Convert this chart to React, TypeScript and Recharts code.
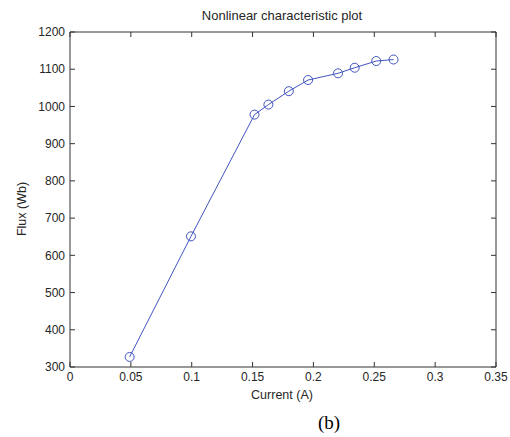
import React from 'react';
import { LineChart, Line, XAxis, YAxis } from 'recharts';

const current = [0.049, 0.0994, 0.1516, 0.163, 0.1798, 0.1956, 0.2202, 0.2339, 0.2516, 0.2658];
const flux = [327, 651, 978, 1005, 1041, 1071, 1089, 1104, 1122, 1126];
const xTicks = [0, 0.05, 0.1, 0.15, 0.2, 0.25, 0.3, 0.35];
const yTicks = [300, 400, 500, 600, 700, 800, 900, 1000, 1100, 1200];

const data = current.map((c, i) => ({ x: c, y: flux[i] }));

const AX = '#333333';
const TXT = '#262626';
const BLUE = '#4255c0';
const SANS = '"Liberation Sans", Arial, sans-serif';

export default function App() {
  const tickStyle = { fontSize: 12, fill: TXT, fontFamily: SANS };
  return (
    <div style={{ position: 'absolute', left: 0, top: 0, width: 510, height: 437, background: '#fff' }}>
      <LineChart width={510} height={437} data={data} margin={{ top: 31, right: 13, bottom: 40, left: 30 }}>
        <XAxis
          dataKey="x"
          type="number"
          domain={[0, 0.35]}
          ticks={xTicks}
          tickFormatter={(v: number) => String(v)}
          height={30}
          tickSize={-5}
          tickMargin={10}
          stroke={AX}
          tick={tickStyle}
          interval={0}
          allowDataOverflow
        />
        <XAxis
          xAxisId="top"
          dataKey="x"
          orientation="top"
          type="number"
          domain={[0, 0.35]}
          ticks={xTicks}
          tickFormatter={() => ''}
          height={1}
          tickSize={-5}
          stroke={AX}
          interval={0}
          allowDataOverflow
        />
        <YAxis
          dataKey="y"
          type="number"
          domain={[300, 1200]}
          ticks={yTicks}
          width={40}
          tickSize={-5}
          tickMargin={10}
          stroke={AX}
          tick={tickStyle}
          interval={0}
          allowDataOverflow
        />
        <YAxis
          yAxisId="right"
          dataKey="y"
          orientation="right"
          type="number"
          domain={[300, 1200]}
          ticks={yTicks}
          tickFormatter={() => ''}
          width={1}
          tickSize={-5}
          stroke={AX}
          interval={0}
          allowDataOverflow
        />
        <Line
          dataKey="y"
          type="linear"
          stroke={BLUE}
          strokeWidth={1}
          dot={{ r: 4.5, fill: 'none', stroke: BLUE, strokeWidth: 1 }}
          isAnimationActive={false}
        />
      </LineChart>
      <div style={{ position: 'absolute', left: 0, width: 564, top: 8, textAlign: 'center', fontFamily: SANS, fontSize: 13, color: TXT, lineHeight: '16px' }}>
        Nonlinear characteristic plot
      </div>
      <div style={{ position: 'absolute', left: 182, width: 200, top: 387, textAlign: 'center', fontFamily: SANS, fontSize: 12.5, color: TXT, lineHeight: '16px' }}>
        Current (A)
      </div>
      <div style={{ position: 'absolute', left: 22 - 50, top: 209 - 8, width: 100, height: 16, textAlign: 'center', fontFamily: SANS, fontSize: 12.5, color: TXT, lineHeight: '16px', transform: 'rotate(-90deg)' }}>
        Flux (Wb)
      </div>
      <div style={{ position: 'absolute', left: 279, width: 100, top: 412, textAlign: 'center', fontFamily: '"Liberation Serif", "Times New Roman", serif', fontSize: 19, color: '#000', lineHeight: '22px' }}>
        (b)
      </div>
    </div>
  );
}
